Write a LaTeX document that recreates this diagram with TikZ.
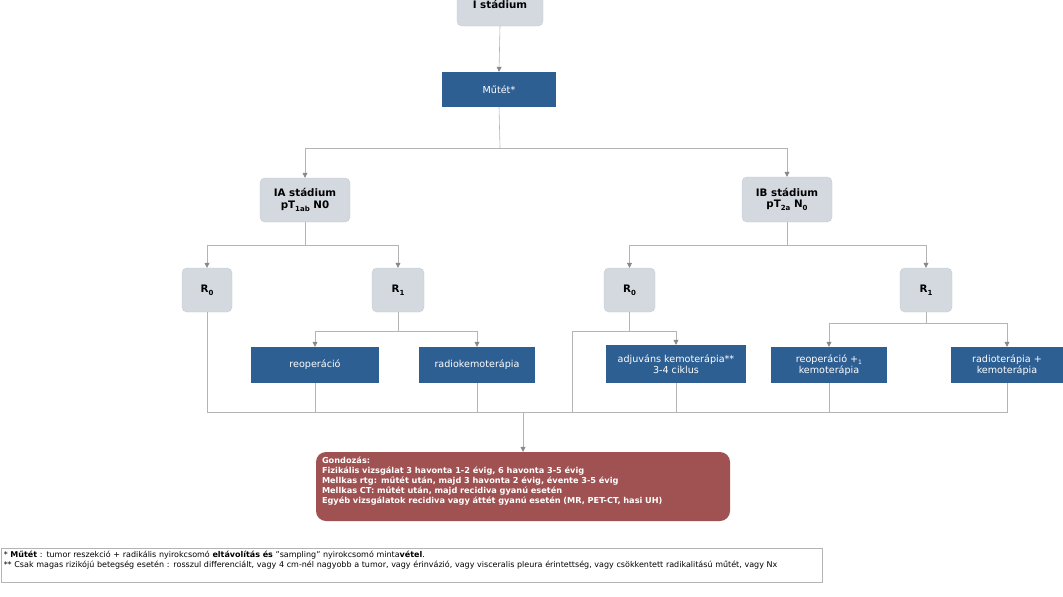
\documentclass[tikz,border=0pt]{standalone}
\usepackage{fontspec}
\setmainfont{DejaVu Sans}
\usetikzlibrary{arrows.meta}
\definecolor{bgray}{HTML}{D4D9E0}
\definecolor{bgrayline}{HTML}{C3C9D1}
\definecolor{bblue}{HTML}{2E5F93}
\definecolor{bred}{HTML}{A05253}
\definecolor{lgray}{HTML}{B4B4B4}
\definecolor{agray}{HTML}{888888}
\newcommand\subx[1]{\raisebox{-2.8pt}{\fontsize{7}{7}\selectfont #1}}
\tikzset{
  stagebox/.style={draw=bgrayline, fill=bgray, rounded corners=5pt, font=\fontsize{10.3}{11.5}\selectfont\bfseries, align=center, inner sep=0pt},
  bluebox/.style={fill=bblue, text=white, font=\fontsize{9.6}{11}\selectfont, align=center, inner sep=0pt},
  ln/.style={draw=lgray, line width=0.6pt},
  arr/.style={ln, -{Triangle[width=5pt,length=5pt,color=agray]}},
}
\begin{document}
\begin{tikzpicture}[x=1pt,y=-1pt]
\useasboundingbox (0,0) rectangle (1063,597);
% nodes
\node[stagebox, minimum width=86pt, minimum height=50pt] (I) at (500,1) {\raisebox{0pt}[0pt][0pt]{\raisebox{-8pt}{I stádium}}};
\node[bluebox, minimum width=114pt, minimum height=35pt] (mutet) at (499,89.5) {Műtét*};
\node[stagebox, minimum width=90pt, minimum height=44pt] (IA) at (305,200) {IA stádium\\[0pt]pT\subx{1ab} N0};
\node[stagebox, minimum width=90pt, minimum height=45pt] (IB) at (787,199.5) {IB stádium\\[0pt]pT\subx{2a} N\subx{0}};
\node[stagebox, minimum width=50pt, minimum height=44pt] (R0a) at (207,290) {R\subx{0}};
\node[stagebox, minimum width=52pt, minimum height=44pt] (R1a) at (398,290) {R\subx{1}};
\node[stagebox, minimum width=51pt, minimum height=44pt] (R0b) at (629.5,290) {R\subx{0}};
\node[stagebox, minimum width=52pt, minimum height=44pt] (R1b) at (926,290) {R\subx{1}};
\node[bluebox, minimum width=128pt, minimum height=36pt] (reop) at (315,365) {reoperáció};
\node[bluebox, minimum width=116pt, minimum height=36pt] (radiok) at (477,365) {radiokemoterápia};
\node[bluebox, minimum width=140pt, minimum height=38pt] (adj) at (676,364) {adjuváns kemoterápia**\\3-4 ciklus};
\node[bluebox, minimum width=116pt, minimum height=36pt] (reopk) at (829,365) {reoperáció +\raisebox{-2pt}{\fontsize{6}{6}\selectfont 1}\\kemoterápia};
\node[bluebox, minimum width=112pt, minimum height=36pt] (radiot) at (1007,365) {radioterápia +\\kemoterápia};
\node[fill=bred, rounded corners=10pt, minimum width=414pt, minimum height=69pt, text width=402pt, align=left, inner xsep=6pt, inner ysep=2pt, text=white, font=\fontsize{8.2}{10}\selectfont\bfseries] (gond) at (523,486.5) {Gondozás:\\
Fizikális vizsgálat 3 havonta 1-2 évig, 6 havonta 3-5 évig\\
Mellkas rtg: műtét után, majd 3 havonta 2 évig, évente 3-5 évig\\
Mellkas CT: műtét után, majd recidiva gyanú esetén\\
Egyéb vizsgálatok recidiva vagy áttét gyanú esetén (MR, PET-CT, hasi UH)\\[3pt]\mbox{}};
\node[draw=lgray, line width=0.5pt, minimum width=821pt, minimum height=34pt, anchor=north west, text width=815pt, inner xsep=2pt, inner ysep=0pt, align=left, font=\fontsize{8}{9.5}\selectfont] (foot) at (0.5,548) {* \textbf{Műtét} : tumor reszekció + radikális nyirokcsomó \textbf{eltávolítás és} "sampling" nyirokcsomó minta\textbf{vétel}.\\\relax
** Csak magas rizikójú betegség esetén : rosszul differenciált, vagy 4 cm-nél nagyobb a tumor, vagy érinvázió, vagy visceralis pleura érintettség, vagy csökkentett radikalitású műtét, vagy Nx\\[2pt]\mbox{}};
% connectors
\coordinate (s1) at (500,148);
\draw[arr] (I.south) -- (mutet.north);
\draw[ln] (mutet.south) -- (s1);
\draw[arr] (s1) -| (IA.north);
\draw[arr] (s1) -| (IB.north);
\coordinate (s2) at (305,245);
\draw[ln] (IA.south) -- (s2);
\draw[arr] (s2) -| (R0a.north);
\draw[arr] (s2) -| (R1a.north);
\coordinate (s3) at (787,245);
\draw[ln] (IB.south) -- (s3);
\draw[arr] (s3) -| (R0b.north);
\draw[arr] (s3) -| (R1b.north);
\coordinate (s4) at (398,331);
\draw[ln] (R1a.south) -- (s4);
\draw[arr] (s4) -| (reop.north);
\draw[arr] (s4) -| (radiok.north);
\coordinate (s5) at (629.5,331);
\coordinate (s5l) at (572,331);
\draw[ln] (R0b.south) -- (s5);
\draw[arr] (s5l) -| (adj.north);
\coordinate (s6) at (926,323);
\draw[ln] (R1b.south) -- (s6);
\draw[arr] (s6) -| (reopk.north);
\draw[arr] (s6) -| (radiot.north);
% collector
\coordinate (c0) at (523,412);
\draw[ln] (R0a.south) |- (c0);
\draw[ln] (radiot.south) |- (c0);
\draw[ln] (reop.south) -- (reop.south |- c0);
\draw[ln] (radiok.south) -- (radiok.south |- c0);
\draw[ln] (s5l) -- (s5l |- c0);
\draw[ln] (adj.south) -- (adj.south |- c0);
\draw[ln] (reopk.south) -- (reopk.south |- c0);
\draw[arr] (c0) -- (gond.north);
\end{tikzpicture}
\end{document}
